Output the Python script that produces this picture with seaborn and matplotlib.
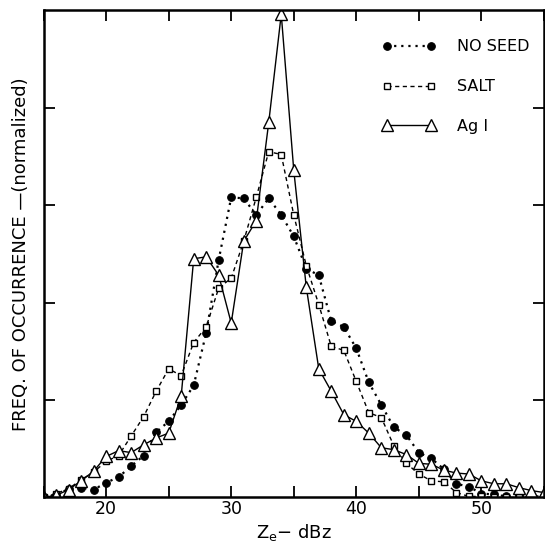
import numpy as np
import pandas as pd
import matplotlib
matplotlib.use("Agg")
import matplotlib.pyplot as plt
import seaborn as sns
from matplotlib.ticker import FixedLocator, NullFormatter

# reflectivity bins (dBz)
dbz = list(range(15, 56))

no_seed = [0.00, 0.02, 0.09, 0.10, 0.08, 0.15, 0.21, 0.32, 0.43, 0.67,
           0.78, 0.95, 1.15, 1.69, 2.44, 3.08, 3.07, 2.90, 3.07, 2.90,
           2.68, 2.35, 2.28, 1.81, 1.75, 1.53, 1.18, 0.95, 0.72, 0.64,
           0.46, 0.40, 0.29, 0.14, 0.11, 0.04, 0.03, 0.01, 0.01, 0.01,
           0.01]
salt = [0.00, 0.04, 0.09, 0.18, 0.26, 0.37, 0.43, 0.63, 0.83, 1.09,
        1.32, 1.25, 1.59, 1.75, 2.15, 2.25, 2.63, 3.08, 3.55, 3.52,
        2.90, 2.38, 1.98, 1.55, 1.51, 1.19, 0.87, 0.82, 0.53, 0.35,
        0.24, 0.17, 0.16, 0.05, 0.01, 0.01, 0.00, 0.00, 0.00, 0.00,
        0.00]
agi = [0.00, 0.02, 0.08, 0.17, 0.27, 0.42, 0.48, 0.46, 0.54, 0.61,
       0.66, 1.04, 2.45, 2.47, 2.28, 1.79, 2.63, 2.84, 3.85, 4.96,
       3.36, 2.16, 1.32, 1.09, 0.85, 0.78, 0.66, 0.51, 0.49, 0.44,
       0.35, 0.34, 0.28, 0.25, 0.24, 0.17, 0.14, 0.14, 0.10, 0.07,
       0.05]

x_ticklabels = [20, 30, 40, 50]

sns.set_style("ticks")
plt.rcParams['font.family'] = ['DejaVu Sans']
plt.rcParams['text.color'] = 'black'
plt.rcParams['axes.labelcolor'] = 'black'
plt.rcParams['xtick.color'] = 'black'
plt.rcParams['ytick.color'] = 'black'
plt.rcParams['axes.edgecolor'] = 'black'

fig = plt.figure(figsize=(5.45, 5.46), dpi=100)
ax = fig.add_axes([0.080, 0.089, 0.918, 0.892])

sns.lineplot(x=dbz, y=no_seed, ax=ax, color='black', linestyle=(0, (1, 2.2)),
             linewidth=1.6, marker='o', markersize=5.5, markerfacecolor='black',
             markeredgecolor='black', label='NO SEED')
sns.lineplot(x=dbz, y=salt, ax=ax, color='black', linestyle=(0, (3, 2.5)),
             linewidth=1.0, marker='s', markersize=5, markerfacecolor='white',
             markeredgecolor='black', markeredgewidth=1.0, label='SALT')
sns.lineplot(x=dbz, y=agi, ax=ax, color='black', linestyle='-',
             linewidth=1.0, marker='^', markersize=9, markerfacecolor='white',
             markeredgecolor='black', markeredgewidth=1.0, label='Ag I')

ax.set_xlim(15, 55)
ax.set_ylim(0, 5)
ax.xaxis.set_major_locator(FixedLocator(x_ticklabels))
ax.xaxis.set_minor_locator(FixedLocator([15, 25, 35, 45, 55]))
ax.xaxis.set_minor_formatter(NullFormatter())
ax.yaxis.set_major_locator(FixedLocator([1, 2, 3, 4]))
ax.set_yticklabels([])
ax.tick_params(which='both', direction='in', top=True, right=True,
               length=8, width=1.3, labelsize=12.5, color='black', pad=2)
for sp in ax.spines.values():
    sp.set_linewidth(1.8)

ax.set_xlabel(r'Z$_\mathregular{e}$$-$ dBz', fontsize=13, labelpad=3)
ax.set_ylabel('FREQ. OF OCCURRENCE —(normalized)', fontsize=13, labelpad=8)

leg = ax.legend(loc='upper right', frameon=False, numpoints=2, handlelength=3.4,
                fontsize=11.5, labelspacing=1.55, handletextpad=1.3,
                bbox_to_anchor=(1.0, 0.97))

fig.savefig('out.png', dpi=100)
